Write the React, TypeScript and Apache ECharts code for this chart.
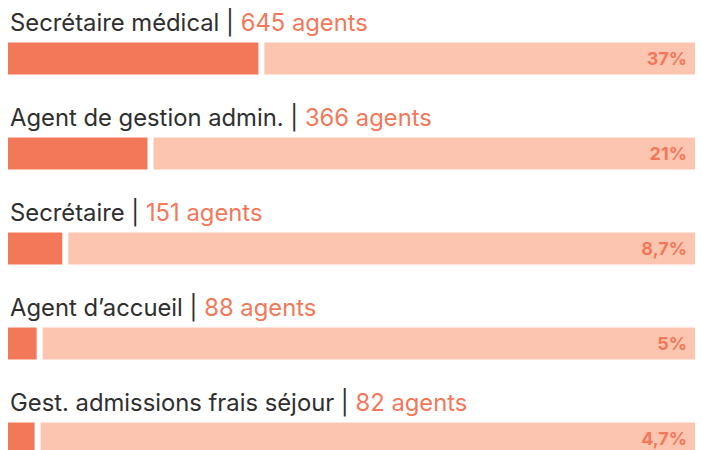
import React, { useEffect, useRef } from "react";
import * as echarts from "echarts";

const categories = [
  "Secrétaire médical",
  "Agent de gestion admin.",
  "Secrétaire",
  "Agent d’accueil",
  "Gest. admissions frais séjour",
];
const agents = [645, 366, 151, 88, 82];
const shares = [37, 21, 8.7, 5, 4.7];
const total = 100;

const DARK = "#F3785A";
const LIGHT = "#FCC5B0";
const TEXT = "#2f2f2f";
const FONT = "Inter";

export default function App() {
  const ref = useRef<HTMLDivElement>(null);
  useEffect(() => {
    if (!ref.current) return;
    const chart = echarts.init(ref.current, null, { renderer: "svg" });
    const rest = shares.map((s) => total - s);
    chart.setOption({
      animation: false,
      grid: { left: 5, right: 4, top: 11, bottom: 0, containLabel: false },
      xAxis: { type: "value", min: 0, max: total, show: false },
      yAxis: { type: "category", data: categories, inverse: true, show: false },
      series: [
        {
          type: "bar",
          stack: "s",
          data: shares,
          barWidth: 38,
          itemStyle: { color: DARK, borderColor: "#fff", borderWidth: 3 },
          label: {
            show: true,
            position: [5, -5],
            align: "left",
            verticalAlign: "bottom",
            formatter: (p: any) =>
              `{n|${categories[p.dataIndex]} | }{a|${agents[p.dataIndex]} agents}`,
            rich: {
              n: { fontFamily: FONT, fontSize: 23.8, color: TEXT },
              a: { fontFamily: FONT, fontSize: 23.8, color: DARK },
            },
          },
        },
        {
          type: "bar",
          stack: "s",
          data: rest,
          barWidth: 38,
          itemStyle: { color: LIGHT, borderColor: "#fff", borderWidth: 3 },
          label: {
            show: true,
            position: "insideRight",
            distance: 11,
            formatter: (p: any) =>
              `${String(shares[p.dataIndex]).replace(".", ",")}%`,
            fontFamily: FONT,
            fontSize: 18,
            fontWeight: "bold",
            color: DARK,
          },
        },
      ],
    });
    return () => chart.dispose();
  }, []);
  return (
    <div style={{ position: "fixed", left: 0, top: 0, width: 702, height: 450, overflow: "hidden", background: "#fff" }}>
      <div ref={ref} style={{ width: 702, height: 486 }} />
    </div>
  );
}
